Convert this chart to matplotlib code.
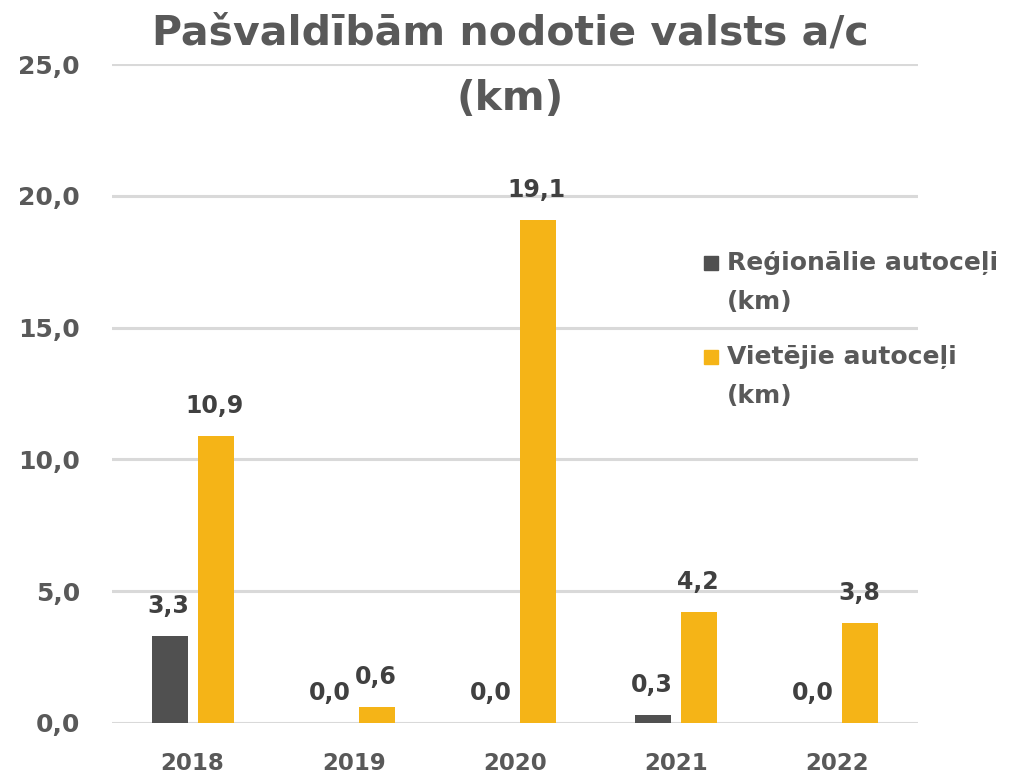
import matplotlib.pyplot as plt
from matplotlib.patches import Rectangle
import numpy as np

years = ['2018', '2019', '2020', '2021', '2022']
regional_km = [3.3, 0.0, 0.0, 0.3, 0.0]
local_km = [10.9, 0.6, 19.1, 4.2, 3.8]
series_names = ['Reģionālie autoceļi\n(km)', 'Vietējie autoceļi\n(km)']
title_lines = ['Pašvaldībām nodotie valsts a/c', '(km)']

DARK = '#505050'
YELLOW = '#F5B417'
TEXT = '#595959'
GRID = '#D9D9D9'

plt.rcParams['font.family'] = ['DejaVu Sans']
plt.rcParams['font.weight'] = 'bold'

W, H = 1014, 779
fig = plt.figure(figsize=(W / 100, H / 100), dpi=100)
ax = fig.add_axes([112 / W, (H - 723) / H, (918 - 112) / W, (723 - 64) / H])

x = np.arange(len(years))
w = 0.223
off = 0.143
b1 = ax.bar(x - off, regional_km, w, color=DARK, zorder=3)
b2 = ax.bar(x + off, local_km, w, color=YELLOW, zorder=3)


def fmt(v):
    return f'{v:.1f}'.replace('.', ',')


# datu etiķetes virs stabiņiem
for bars, vals in ((b1, regional_km), (b2, local_km)):
    for rect, v in zip(bars, vals):
        ax.annotate(fmt(v), (rect.get_x() + rect.get_width() / 2, v),
                    xytext=(-1, 16.5), textcoords='offset points',
                    ha='center', va='baseline', fontsize=17, fontweight='bold',
                    color='#404040', zorder=4)

ax.set_xlim(-0.5, len(years) - 0.5)
ax.set_ylim(0, 25)
yt = np.arange(0, 26, 5)
ax.set_yticks(yt)
ax.set_yticklabels([fmt(v) for v in yt])
ax.set_xticks(x)
ax.set_xticklabels(years)
ax.yaxis.grid(True, color=GRID, linewidth=2.2, zorder=0)
ax.set_axisbelow(True)
for s in ax.spines.values():
    s.set_visible(False)
ax.tick_params(axis='both', length=0, labelcolor=TEXT)
ax.tick_params(axis='y', pad=23, labelsize=18)
ax.tick_params(axis='x', pad=21, labelsize=16.5)

# virsraksts
fig.text(510 / W, (H - 45) / H, title_lines[0], ha='center', va='baseline',
         fontsize=29.5, fontweight='bold', color=TEXT)
fig.text(510 / W, (H - 110) / H, title_lines[1], ha='center', va='baseline',
         fontsize=29.5, fontweight='bold', color=TEXT)

# leģenda
for (label, color, ytop) in ((series_names[0], DARK, 263), (series_names[1], YELLOW, 357)):
    fig.add_artist(Rectangle((704 / W, (H - ytop - 7) / H), 14 / W, 14 / H,
                             transform=fig.transFigure, color=color))
    first, second = label.split('\n')
    fig.text(727 / W, (H - ytop) / H, first, ha='left', va='center',
             fontsize=18, fontweight='bold', color=TEXT)
    fig.text(727 / W, (H - ytop - 39) / H, second, ha='left', va='center',
             fontsize=18, fontweight='bold', color=TEXT)

fig.savefig('out.png', dpi=100)
